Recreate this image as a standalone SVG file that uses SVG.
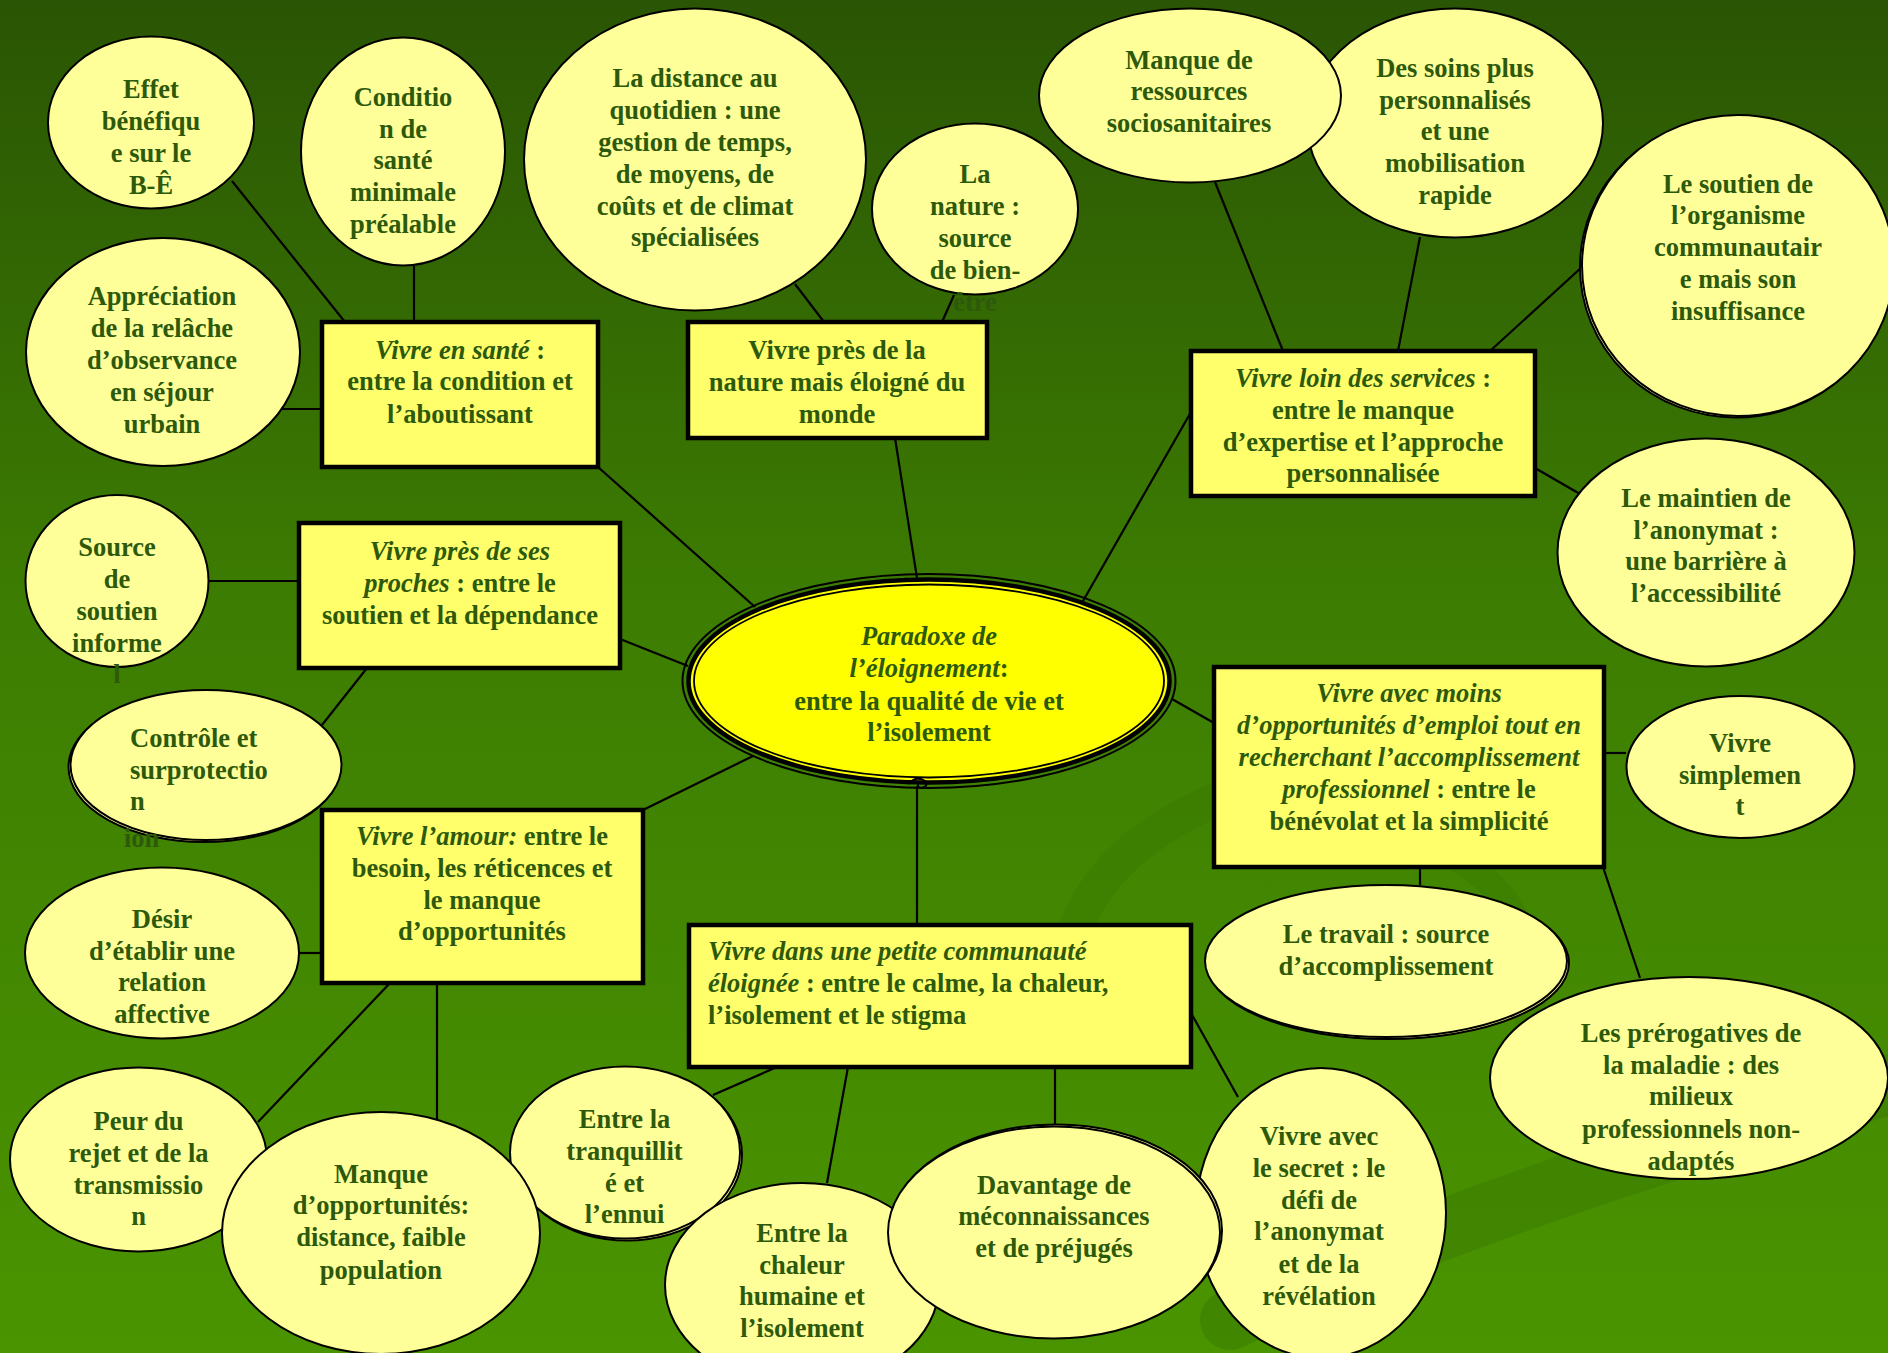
<svg xmlns="http://www.w3.org/2000/svg" width="1888" height="1353" viewBox="0 0 1888 1353">
<defs>
<linearGradient id="bg" x1="0" y1="0" x2="0" y2="1">
<stop offset="0" stop-color="#2a5504"/>
<stop offset="0.45" stop-color="#3d7d02"/>
<stop offset="1" stop-color="#4a9400"/>
</linearGradient>
<style>
.t{font-family:"Liberation Serif","Times New Roman",serif;font-weight:bold;font-size:26.5px;fill:#2d5a0a;text-anchor:middle}
.l{text-anchor:start}
.i{font-style:italic}
.n{fill:#ffff99;stroke:#000;stroke-width:2}
.b{fill:#ffff6b;stroke:#000;stroke-width:4.5}
.c line{stroke:#000;stroke-width:2.2}
.sw{fill:none;stroke:#3a7a00;stroke-linecap:round}
</style>
</defs>
<rect width="1888" height="1353" fill="url(#bg)"/>
<g id="swoosh">
<path class="sw" d="M1065,985 C1070,840 1230,755 1520,745" stroke-width="34" opacity="0.5"/>
<path class="sw" d="M1230,1320 C1450,1215 1700,1140 1888,1085" stroke-width="60" opacity="0.5"/>
<path class="sw" d="M1440,850 C1530,890 1560,990 1510,1060" stroke-width="26" opacity="0.45"/>
</g>
<g id="connectors" class="c">
<line x1="232" y1="181" x2="345" y2="322"/>
<line x1="414" y1="266" x2="414" y2="322"/>
<line x1="278" y1="409" x2="322" y2="409"/>
<line x1="598" y1="467" x2="755" y2="607"/>
<line x1="795" y1="284" x2="824" y2="322"/>
<line x1="954" y1="295" x2="942" y2="322"/>
<line x1="895" y1="438" x2="917" y2="578"/>
<line x1="1215" y1="182" x2="1283" y2="351"/>
<line x1="1420" y1="237" x2="1398" y2="351"/>
<line x1="1582" y1="267" x2="1490" y2="351"/>
<line x1="1191" y1="412" x2="1079" y2="608"/>
<line x1="1535" y1="468" x2="1580" y2="494"/>
<line x1="208" y1="581" x2="299" y2="581"/>
<line x1="367" y1="668" x2="322" y2="725"/>
<line x1="620" y1="639" x2="688" y2="666"/>
<line x1="643" y1="810" x2="753" y2="756"/>
<line x1="299" y1="953" x2="322" y2="953"/>
<line x1="390" y1="983" x2="258" y2="1122"/>
<line x1="437" y1="983" x2="437" y2="1119"/>
<line x1="917" y1="786" x2="917" y2="925"/>
<line x1="777" y1="1067" x2="713" y2="1095"/>
<line x1="848" y1="1067" x2="827" y2="1183"/>
<line x1="1055" y1="1067" x2="1055" y2="1126"/>
<line x1="1191" y1="1013" x2="1238" y2="1097"/>
<line x1="1172" y1="699" x2="1214" y2="723"/>
<line x1="1604" y1="753" x2="1626" y2="753"/>
<line x1="1420" y1="867" x2="1420" y2="885"/>
<line x1="1603" y1="867" x2="1640" y2="978"/>
</g>
<g id="effet"><ellipse class="n" cx="151" cy="122.5" rx="103" ry="86"/>
<text class="t"><tspan x="151" y="98">Effet</tspan><tspan x="151" y="129.5">bénéfiqu</tspan><tspan x="151" y="161.5">e sur le</tspan><tspan x="151" y="193.5">B-Ê</tspan></text></g>
<g id="condition"><ellipse class="n" cx="403" cy="151.5" rx="102" ry="114"/>
<text class="t"><tspan x="403" y="106">Conditio</tspan><tspan x="403" y="137.5">n de</tspan><tspan x="403" y="169">santé</tspan><tspan x="403" y="201">minimale</tspan><tspan x="403" y="232.5">préalable</tspan></text></g>
<g id="appreciation"><ellipse class="n" cx="163" cy="352" rx="137" ry="114"/>
<text class="t"><tspan x="162" y="305">Appréciation</tspan><tspan x="162" y="337">de la relâche</tspan><tspan x="162" y="369">d’observance</tspan><tspan x="162" y="401">en séjour</tspan><tspan x="162" y="433">urbain</tspan></text></g>
<g id="distance"><ellipse class="n" cx="695" cy="159.5" rx="171" ry="151"/>
<text class="t"><tspan x="695" y="87">La distance au</tspan><tspan x="695" y="119">quotidien : une</tspan><tspan x="695" y="151">gestion de temps,</tspan><tspan x="695" y="183">de moyens, de</tspan><tspan x="695" y="214.5">coûts et de climat</tspan><tspan x="695" y="246">spécialisées</tspan></text></g>
<g id="nature"><ellipse class="n" cx="975" cy="209" rx="103" ry="85.5"/>
<text class="t"><tspan x="975" y="183">La</tspan><tspan x="975" y="215">nature :</tspan><tspan x="975" y="247">source</tspan><tspan x="975" y="279">de bien-</tspan><tspan x="975" y="311">être</tspan></text></g>
<g id="soins"><ellipse class="n" cx="1455" cy="123" rx="148" ry="114.5"/>
<text class="t"><tspan x="1455" y="77">Des soins plus</tspan><tspan x="1455" y="108.5">personnalisés</tspan><tspan x="1455" y="140">et une</tspan><tspan x="1455" y="172">mobilisation</tspan><tspan x="1455" y="203.5">rapide</tspan></text></g>
<g id="manque-ress"><ellipse class="n" cx="1190" cy="95.5" rx="151" ry="87"/>
<text class="t"><tspan x="1189" y="68.5">Manque de</tspan><tspan x="1189" y="100">ressources</tspan><tspan x="1189" y="131.5">sociosanitaires</tspan></text></g>
<g id="soutien"><ellipse class="n" cx="1736" cy="267" rx="156" ry="150.5"/><ellipse class="n" cx="1738" cy="265.5" rx="156" ry="150.5"/>
<text class="t"><tspan x="1738" y="193">Le soutien de</tspan><tspan x="1738" y="224">l’organisme</tspan><tspan x="1738" y="256">communautair</tspan><tspan x="1738" y="287.5">e mais son</tspan><tspan x="1738" y="319.5">insuffisance</tspan></text></g>
<g id="maintien"><ellipse class="n" cx="1706" cy="552.5" rx="148.5" ry="114"/>
<text class="t"><tspan x="1706" y="507">Le maintien de</tspan><tspan x="1706" y="538.5">l’anonymat :</tspan><tspan x="1706" y="570">une barrière à</tspan><tspan x="1706" y="601.5">l’accessibilité</tspan></text></g>
<g id="source"><ellipse class="n" cx="117" cy="581" rx="91.5" ry="86"/>
<text class="t"><tspan x="117" y="556">Source</tspan><tspan x="117" y="588">de</tspan><tspan x="117" y="620">soutien</tspan><tspan x="117" y="651.5">informe</tspan><tspan x="117" y="683">l</tspan></text></g>
<g id="controle"><ellipse class="n" cx="204" cy="767" rx="135.5" ry="75"/><ellipse class="n" cx="206" cy="765" rx="135.5" ry="75"/>
<text class="t l"><tspan x="130" y="746.5">Contrôle et</tspan><tspan x="130" y="778.5">surprotectio</tspan><tspan x="130" y="810">n</tspan><tspan x="124" y="847">ion</tspan></text></g>
<g id="simplement"><ellipse class="n" cx="1740.5" cy="767" rx="114" ry="71"/>
<text class="t"><tspan x="1740" y="752">Vivre</tspan><tspan x="1740" y="783.5">simplemen</tspan><tspan x="1740" y="815">t</tspan></text></g>
<g id="desir"><ellipse class="n" cx="162" cy="953" rx="137" ry="85.5"/>
<text class="t"><tspan x="162" y="927.5">Désir</tspan><tspan x="162" y="959.5">d’établir une</tspan><tspan x="162" y="991">relation</tspan><tspan x="162" y="1023">affective</tspan></text></g>
<g id="travail"><ellipse class="n" cx="1388" cy="963" rx="181" ry="76"/><ellipse class="n" cx="1386" cy="961" rx="181" ry="76"/>
<text class="t"><tspan x="1386" y="943">Le travail : source</tspan><tspan x="1386" y="974.5">d’accomplissement</tspan></text></g>
<g id="prerogatives"><ellipse class="n" cx="1689" cy="1078" rx="199" ry="101"/>
<text class="t"><tspan x="1691" y="1042">Les prérogatives de</tspan><tspan x="1691" y="1073.5">la maladie : des</tspan><tspan x="1691" y="1105">milieux</tspan><tspan x="1691" y="1137.5">professionnels non-</tspan><tspan x="1691" y="1169.5">adaptés</tspan></text></g>
<g id="peur"><ellipse class="n" cx="138.5" cy="1159.5" rx="128.5" ry="92"/>
<text class="t"><tspan x="138.5" y="1129.5">Peur du</tspan><tspan x="138.5" y="1161.5">rejet et de la</tspan><tspan x="138.5" y="1193.5">transmissio</tspan><tspan x="138.5" y="1225">n</tspan></text></g>
<g id="tranquillite"><ellipse class="n" cx="627" cy="1154.5" rx="115" ry="86"/><ellipse class="n" cx="625" cy="1152.5" rx="115" ry="86"/>
<text class="t"><tspan x="624.5" y="1128">Entre la</tspan><tspan x="624.5" y="1159.5">tranquillit</tspan><tspan x="624.5" y="1191.5">é et</tspan><tspan x="624.5" y="1223">l’ennui</tspan></text></g>
<g id="manque-opp"><ellipse class="n" cx="381" cy="1233" rx="159" ry="121"/>
<text class="t"><tspan x="381" y="1183">Manque</tspan><tspan x="381" y="1214">d’opportunités:</tspan><tspan x="381" y="1246">distance, faible</tspan><tspan x="381" y="1278.5">population</tspan></text></g>
<g id="chaleur"><ellipse class="n" cx="802" cy="1285" rx="137" ry="102"/>
<text class="t"><tspan x="802" y="1242">Entre la</tspan><tspan x="802" y="1273.5">chaleur</tspan><tspan x="802" y="1305">humaine et</tspan><tspan x="802" y="1337">l’isolement</tspan></text></g>
<g id="secret"><ellipse class="n" cx="1321" cy="1213" rx="125" ry="145"/>
<text class="t"><tspan x="1319" y="1145">Vivre avec</tspan><tspan x="1319" y="1177">le secret : le</tspan><tspan x="1319" y="1208.5">défi de</tspan><tspan x="1319" y="1240">l’anonymat</tspan><tspan x="1319" y="1272.5">et de la</tspan><tspan x="1319" y="1304.5">révélation</tspan></text></g>
<g id="davantage"><ellipse class="n" cx="1056" cy="1230.5" rx="166" ry="106"/><ellipse class="n" cx="1054" cy="1232.5" rx="166" ry="106"/>
<text class="t"><tspan x="1054" y="1193.5">Davantage de</tspan><tspan x="1054" y="1225">méconnaissances</tspan><tspan x="1054" y="1257">et de préjugés</tspan></text></g>
<g id="box-sante"><rect class="b" x="322" y="322" width="276" height="145"/>
<text class="t"><tspan x="460" y="358.5"><tspan class="i">Vivre en santé</tspan> :</tspan><tspan x="460" y="390">entre la condition et</tspan><tspan x="460" y="422.5">l’aboutissant</tspan></text></g>
<g id="box-nature"><rect class="b" x="688" y="322" width="299" height="116"/>
<text class="t"><tspan x="837" y="358.5">Vivre près de la</tspan><tspan x="837" y="390.5">nature mais éloigné du</tspan><tspan x="837" y="422.5">monde</tspan></text></g>
<g id="box-services"><rect class="b" x="1191" y="351" width="344" height="145"/>
<text class="t"><tspan x="1363" y="387"><tspan class="i">Vivre loin des services</tspan> :</tspan><tspan x="1363" y="418.5">entre le manque</tspan><tspan x="1363" y="450.5">d’expertise et l’approche</tspan><tspan x="1363" y="482">personnalisée</tspan></text></g>
<g id="box-proches"><rect class="b" x="299" y="523" width="321" height="145"/>
<text class="t"><tspan x="460" y="560" class="i">Vivre près de ses</tspan><tspan x="460" y="591.5"><tspan class="i">proches</tspan> : entre le</tspan><tspan x="460" y="624">soutien et la dépendance</tspan></text></g>
<g id="box-amour"><rect class="b" x="322" y="810" width="321" height="173"/>
<text class="t"><tspan x="482" y="845"><tspan class="i">Vivre l’amour:</tspan> entre le</tspan><tspan x="482" y="876.5">besoin, les réticences et</tspan><tspan x="482" y="908.5">le manque</tspan><tspan x="482" y="940">d’opportunités</tspan></text></g>
<g id="box-emploi"><rect class="b" x="1214" y="667" width="390" height="200"/>
<text class="t"><tspan x="1409" y="702" class="i">Vivre avec moins</tspan><tspan x="1409" y="733.5" class="i">d’opportunités d’emploi tout en</tspan><tspan x="1409" y="766" class="i">recherchant l’accomplissement</tspan><tspan x="1409" y="797.5"><tspan class="i">professionnel</tspan> : entre le</tspan><tspan x="1409" y="829.5">bénévolat et la simplicité</tspan></text></g>
<g id="box-communaute"><rect class="b" x="689" y="925" width="502" height="142"/>
<text class="t l"><tspan x="708" y="960" class="i">Vivre dans une petite communauté</tspan><tspan x="708" y="991.5"><tspan class="i">éloignée</tspan> : entre le calme, la chaleur,</tspan><tspan x="708" y="1023.5">l’isolement et le stigma</tspan></text></g>
<g id="center">
<ellipse cx="929" cy="681" rx="246.5" ry="107" fill="none" stroke="#000" stroke-width="2"/>
<ellipse cx="929" cy="681" rx="240.5" ry="101.5" fill="#ffff00" stroke="#000" stroke-width="4.5"/>
<ellipse cx="929" cy="681" rx="235" ry="96.5" fill="#ffff00" stroke="#000" stroke-width="1.8"/>
<path d="M908,784 q9,-9 17,-3 q4,5 -3,7 q-5,0 -4,-4" fill="none" stroke="#000" stroke-width="2"/>
<text class="t"><tspan x="929" y="645" class="i">Paradoxe de</tspan><tspan x="929" y="677"><tspan class="i">l’éloignement</tspan>:</tspan><tspan x="929" y="709.5">entre la qualité de vie et</tspan><tspan x="929" y="741">l’isolement</tspan></text>
</g>
</svg>
